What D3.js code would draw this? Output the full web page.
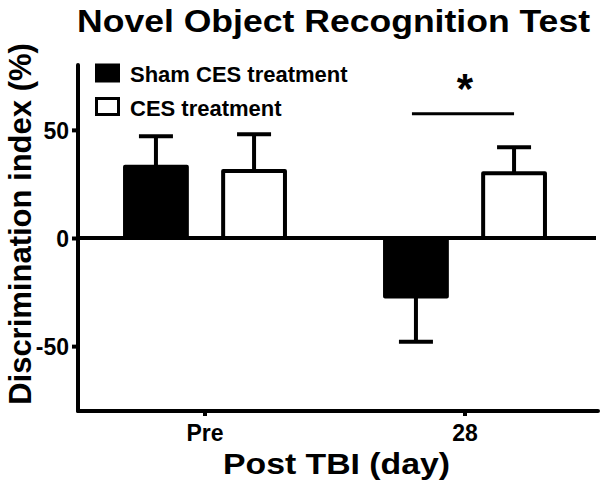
<!DOCTYPE html>
<html>
<head>
<meta charset="utf-8">
<script src="https://cdn.jsdelivr.net/npm/d3@7"></script>
<style>
  body { margin: 0; background: #fff; }
  text { font-family: "Liberation Sans", Arial, sans-serif; font-weight: bold; fill: #000; }
</style>
</head>
<body>
<div id="chart"></div>
<script>
// Data
const days = ['Pre', '28']
const series = ['Sham CES treatment', 'CES treatment']
const shamMean = [33, -27]
const shamSem = [14, 21]
const cesMean = [31, 30]
const cesSem = [17, 12]
const yTicks = [-50, 0, 50]

// Layout constants
const W = 600
const H = 496
const LEFT = 78
const RIGHT = 597
const TOP = 65
const BOTTOM = 411
const STROKE = 4

const rows = days.flatMap((d, i) => [
  { day: d, s: series[0], mean: shamMean[i], sem: shamSem[i], fill: '#000' },
  { day: d, s: series[1], mean: cesMean[i], sem: cesSem[i], fill: '#fff' }
])

const svg = d3.select('#chart')
  .append('svg')
  .attr('width', W)
  .attr('height', H)

// Scales
const y = d3.scaleLinear().domain([-80, 80]).range([BOTTOM, TOP])
const x0 = d3.scaleBand().domain(days).range([LEFT - 3, RIGHT - 2]).padding(0)
const x1 = d3.scaleBand().domain(series).range([0, x0.bandwidth()])
  .paddingInner(0.37).paddingOuter(0.51)
const barX = d => x0(d.day) + x1(d.s)
const barMid = d => barX(d) + x1.bandwidth() / 2

// Error bars (drawn first so the bar covers the start)
const err = svg.append('g').attr('stroke', '#000').attr('stroke-width', STROKE)
err.selectAll('line.stem')
  .data(rows)
  .enter()
  .append('line')
  .attr('x1', barMid)
  .attr('x2', barMid)
  .attr('y1', d => y(d.mean))
  .attr('y2', d => y(d.mean + Math.sign(d.mean) * d.sem))
err.selectAll('line.cap')
  .data(rows)
  .enter()
  .append('line')
  .attr('x1', d => barMid(d) - 17)
  .attr('x2', d => barMid(d) + 17)
  .attr('y1', d => y(d.mean + Math.sign(d.mean) * d.sem))
  .attr('y2', d => y(d.mean + Math.sign(d.mean) * d.sem))

// Bars
svg.append('g').selectAll('rect')
  .data(rows)
  .enter()
  .append('rect')
  .attr('x', barX)
  .attr('width', x1.bandwidth())
  .attr('y', d => y(Math.max(0, d.mean)))
  .attr('height', d => Math.abs(y(d.mean) - y(0)))
  .attr('fill', d => d.fill)
  .attr('stroke', '#000')
  .attr('stroke-width', STROKE)
  .attr('stroke-linejoin', 'round')

// Zero line
svg.append('line')
  .attr('x1', LEFT).attr('x2', RIGHT - 1)
  .attr('y1', y(0)).attr('y2', y(0))
  .attr('stroke', '#000').attr('stroke-width', STROKE)

// Y axis (plain hyphen for negatives, as in the original)
const yAxis = svg.append('g')
  .attr('transform', `translate(${LEFT},0)`)
  .call(d3.axisLeft(y).tickValues(yTicks).tickFormat(d => String(d))
    .tickSize(6).tickPadding(3).tickSizeOuter(0))
yAxis.select('.domain').remove()
yAxis.selectAll('.tick line').attr('stroke', '#000').attr('stroke-width', STROKE)
yAxis.selectAll('.tick text').style('font-size', '23px').attr('dy', '0.36em')
yAxis.append('line')
  .attr('x1', 0).attr('x2', 0)
  .attr('y1', y(80)).attr('y2', y(-80))
  .attr('stroke', '#000').attr('stroke-width', STROKE).attr('stroke-linecap', 'round')

// X axis
const xAxis = svg.append('g')
  .attr('transform', `translate(0,${y(-80)})`)
  .call(d3.axisBottom(x0).tickSize(5).tickPadding(9).tickSizeOuter(0))
xAxis.select('.domain').remove()
xAxis.selectAll('.tick line').attr('stroke', '#000').attr('stroke-width', STROKE)
xAxis.selectAll('.tick text').style('font-size', '23px')
xAxis.append('line')
  .attr('x1', LEFT).attr('x2', RIGHT + 1)
  .attr('y1', 0).attr('y2', 0)
  .attr('stroke', '#000').attr('stroke-width', STROKE).attr('stroke-linecap', 'round')

// Significance marker between the 28-day bars
const sigA = rows[2]
const sigB = rows[3]
svg.append('line')
  .attr('x1', barMid(sigA) - 4).attr('x2', barMid(sigB))
  .attr('y1', y(57.5)).attr('y2', y(57.5))
  .attr('stroke', '#000').attr('stroke-width', 3)
svg.append('text')
  .attr('x', (barMid(sigA) + barMid(sigB)) / 2)
  .attr('y', 103)
  .attr('text-anchor', 'middle')
  .style('font-size', '42px')
  .text('*')

// Legend
const legend = svg.append('g')
series.forEach((s, i) => {
  legend.append('rect')
    .attr('x', 96.5).attr('y', 65 + i * 33.5)
    .attr('width', 22).attr('height', 16)
    .attr('fill', i === 0 ? '#000' : '#fff')
    .attr('stroke', '#000').attr('stroke-width', 3)
  legend.append('text')
    .attr('x', 130).attr('y', 82 + i * 33.5)
    .style('font-size', '22px')
    .text(s)
})

// Titles
svg.append('text')
  .attr('x', 333.5).attr('y', 32)
  .attr('text-anchor', 'middle')
  .attr('textLength', 513).attr('lengthAdjust', 'spacingAndGlyphs')
  .style('font-size', '31px')
  .text('Novel Object Recognition Test')

svg.append('text')
  .attr('x', 336.5).attr('y', 474)
  .attr('text-anchor', 'middle')
  .attr('textLength', 227).attr('lengthAdjust', 'spacingAndGlyphs')
  .style('font-size', '30px')
  .text('Post TBI (day)')

svg.append('text')
  .attr('transform', 'translate(31,224) rotate(-90)')
  .attr('text-anchor', 'middle')
  .style('font-size', '31px')
  .text('Discrimination index (%)')
</script>
</body>
</html>
